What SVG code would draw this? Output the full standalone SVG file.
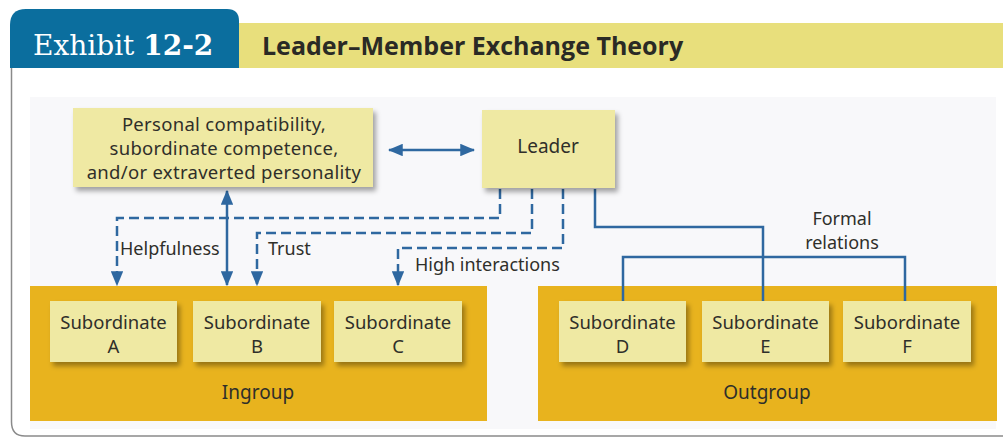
<svg xmlns="http://www.w3.org/2000/svg" width="1003" height="445" viewBox="0 0 1003 445">
<style>
.t{font-family:"Noto Sans","Liberation Sans",sans-serif;fill:#2f2f2a;}
.node{fill:#efe9a3;filter:url(#sh);}
.panel{fill:#e8b31e;}
.dash{fill:none;stroke:#2f68a0;stroke-width:2.5;stroke-dasharray:10,5;}
.solid{fill:none;stroke:#2f68a0;stroke-width:2.5;}
</style>
<defs>
<filter id="sh" x="-10%" y="-10%" width="130%" height="140%">
<feDropShadow dx="3" dy="4" stdDeviation="2.5" flood-color="#000" flood-opacity="0.35"/>
</filter>
<marker id="ah" viewBox="0 0 12 10" refX="11" refY="5" markerWidth="6" markerHeight="5" orient="auto-start-reverse" markerUnits="strokeWidth">
<path d="M0,0 L12,5 L0,10 z" fill="#2f68a0"/>
</marker>
</defs>
<rect width="1003" height="445" fill="#ffffff"/>
<!-- frame -->
<path d="M11.5,68 V422 Q11.5,436 25,436 H1003" fill="none" stroke="#8a8a8a" stroke-width="1.5"/>
<rect x="30" y="97" width="966" height="332" fill="#f8f8fa"/>
<!-- header -->
<g id="header">
<rect x="238" y="23" width="765" height="45" fill="#e8df7c"/>
<path d="M10,68 V25 Q10,9 26,9 H227 Q239,9 239,21 V68 Z" fill="#0b6e9e"/>
<text x="33" y="55" font-family="'DejaVu Serif','Liberation Serif',serif" font-size="28" fill="#ffffff">Exhibit <tspan font-weight="bold">12-2</tspan></text>
<text x="262" y="55" font-family="'Open Sans','Noto Sans',sans-serif" font-weight="bold" font-size="25" fill="#2a2a25">Leader–Member Exchange Theory</text>
</g>
<!-- panels -->
<g id="ingroup">
<rect class="panel" x="30" y="286" width="457" height="135"/>
<text class="t" x="258" y="399" font-size="19" text-anchor="middle">Ingroup</text>
</g>
<g id="outgroup">
<rect class="panel" x="538" y="286" width="459" height="135"/>
<text class="t" x="767" y="399" font-size="19" text-anchor="middle">Outgroup</text>
</g>
<!-- connectors -->
<g id="connectors">
<line class="solid" x1="389" y1="150" x2="474" y2="150" marker-start="url(#ah)" marker-end="url(#ah)"/>
<line class="solid" x1="227" y1="191" x2="227" y2="285" marker-start="url(#ah)" marker-end="url(#ah)"/>
<path class="dash" d="M500,189 V218 H117 V285" marker-end="url(#ah)"/>
<path class="dash" d="M532,189 V233 H257 V285" marker-end="url(#ah)"/>
<path class="dash" d="M563,189 V248 H398 V285" marker-end="url(#ah)"/>
<path class="solid" d="M595,189 V227 H763 V301"/>
<path class="solid" d="M623,301 V257 H905 V301"/>
<text class="t" x="120" y="255" font-size="18">Helpfulness</text>
<text class="t" x="268" y="255" font-size="18">Trust</text>
<text class="t" x="415" y="271" font-size="18">High interactions</text>
<text class="t" x="842" y="225" font-size="18" text-anchor="middle">Formal</text>
<text class="t" x="842" y="249" font-size="18" text-anchor="middle">relations</text>
</g>
<!-- nodes -->
<g id="factors">
<rect class="node" x="73" y="108" width="300" height="79"/>
<text class="t" x="224" y="131" font-size="18.5" letter-spacing="0.3" text-anchor="middle">Personal compatibility,</text>
<text class="t" x="224" y="155" font-size="18.5" letter-spacing="0.3" text-anchor="middle">subordinate competence,</text>
<text class="t" x="224" y="179" font-size="18.5" letter-spacing="0.3" text-anchor="middle">and/or extraverted personality</text>
</g>
<g id="leader">
<rect class="node" x="482" y="110" width="133" height="78"/>
<text class="t" x="548" y="153" font-size="19" text-anchor="middle">Leader</text>
</g>
<g id="subA">
<rect class="node" x="50" y="301" width="127" height="61"/>
<text class="t" x="113.5" y="329" font-size="18.5" text-anchor="middle">Subordinate</text>
<text class="t" x="113.5" y="353" font-size="18.5" text-anchor="middle">A</text>
</g>
<g id="subB">
<rect class="node" x="193" y="301" width="128" height="61"/>
<text class="t" x="257" y="329" font-size="18.5" text-anchor="middle">Subordinate</text>
<text class="t" x="257" y="353" font-size="18.5" text-anchor="middle">B</text>
</g>
<g id="subC">
<rect class="node" x="334" y="301" width="128" height="61"/>
<text class="t" x="398" y="329" font-size="18.5" text-anchor="middle">Subordinate</text>
<text class="t" x="398" y="353" font-size="18.5" text-anchor="middle">C</text>
</g>
<g id="subD">
<rect class="node" x="559" y="301" width="127" height="61"/>
<text class="t" x="622.5" y="329" font-size="18.5" text-anchor="middle">Subordinate</text>
<text class="t" x="622.5" y="353" font-size="18.5" text-anchor="middle">D</text>
</g>
<g id="subE">
<rect class="node" x="702" y="301" width="127" height="61"/>
<text class="t" x="765.5" y="329" font-size="18.5" text-anchor="middle">Subordinate</text>
<text class="t" x="765.5" y="353" font-size="18.5" text-anchor="middle">E</text>
</g>
<g id="subF">
<rect class="node" x="843" y="301" width="128" height="61"/>
<text class="t" x="907" y="329" font-size="18.5" text-anchor="middle">Subordinate</text>
<text class="t" x="907" y="353" font-size="18.5" text-anchor="middle">F</text>
</g>
</svg>
